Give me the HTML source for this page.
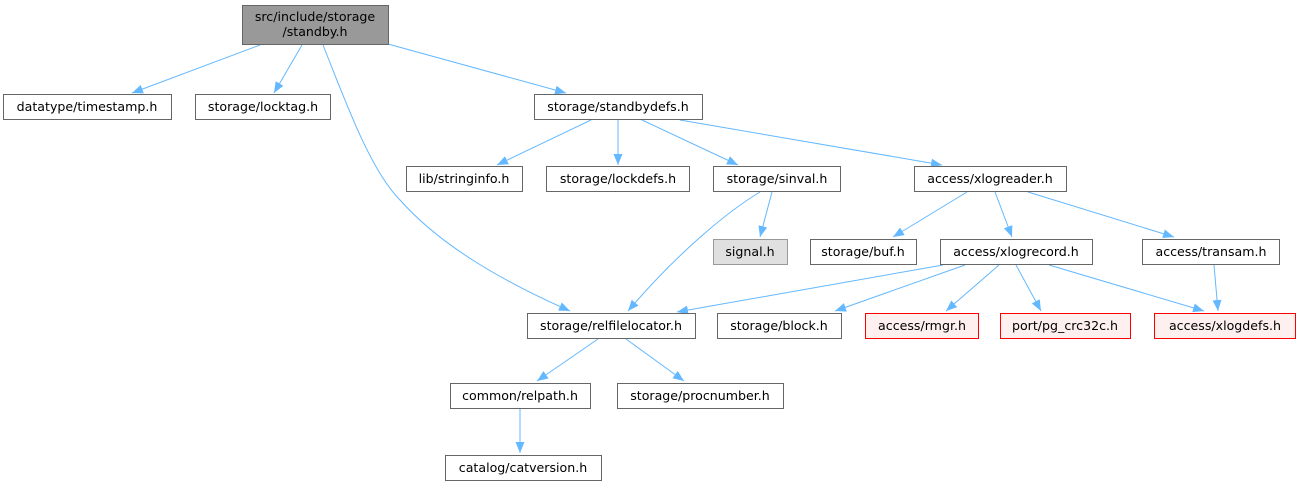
<!DOCTYPE html>
<html><head><meta charset="utf-8"><style>
html,body{margin:0;padding:0;background:#fff;}
svg{display:block;}
text{font-family:"DejaVu Sans","Liberation Sans",sans-serif;font-size:12.6px;fill:#000;}
</style></head><body>
<svg width="1299" height="491" viewBox="0 0 1299 491" xmlns="http://www.w3.org/2000/svg">
<defs>
<marker id="a" markerWidth="11" markerHeight="9" refX="11" refY="4.5" orient="auto" markerUnits="userSpaceOnUse">
<path d="M0,0 L11,4.5 L0,9 z" fill="#63b8ff"/>
</marker>
</defs>
<g fill="none" stroke="#63b8ff" stroke-width="1" marker-end="url(#a)">
<path d="M260,45 L132,93"/>
<path d="M302,45 L274,93"/>
<path d="M388,44 L566,93"/>
<path d="M323,45 C345,100 370,170 400,200 C440,245 500,280 570,311"/>
<path d="M591,120 L497,165"/>
<path d="M618,120 L618,165"/>
<path d="M642,120 L738,165"/>
<path d="M680,120 L942,165"/>
<path d="M760,192 C730,210 680,250 628,311"/>
<path d="M772,192 L760,237"/>
<path d="M967,192 L893,237"/>
<path d="M995,192 L1012,237"/>
<path d="M1028,192 L1174,237"/>
<path d="M943,265 L677,312"/>
<path d="M965,265 L835,311"/>
<path d="M999,265 L946,311"/>
<path d="M1016,265 L1041,311"/>
<path d="M1049,265 L1204,311"/>
<path d="M1214,265 L1218,311"/>
<path d="M598,339 L537,381"/>
<path d="M626,339 L684,381"/>
<path d="M520,408 L520,453"/>
</g>
<g stroke-width="1">
<rect x="242.5" y="5.5" width="146" height="39" fill="#999999" stroke="#666666"/>
<rect x="3.5" y="94.5" width="168" height="25" fill="#fff" stroke="#666"/>
<rect x="195.5" y="94.5" width="135" height="25" fill="#fff" stroke="#666"/>
<rect x="534.5" y="94.5" width="168" height="25" fill="#fff" stroke="#666"/>
<rect x="406.5" y="166.5" width="116" height="25" fill="#fff" stroke="#666"/>
<rect x="546.5" y="166.5" width="143" height="25" fill="#fff" stroke="#666"/>
<rect x="713.5" y="166.5" width="127" height="25" fill="#fff" stroke="#666"/>
<rect x="914.5" y="166.5" width="152" height="25" fill="#fff" stroke="#666"/>
<rect x="713.5" y="239.5" width="74" height="25" fill="#e0e0e0" stroke="#999"/>
<rect x="810.5" y="239.5" width="106" height="25" fill="#fff" stroke="#666"/>
<rect x="940.5" y="239.5" width="152" height="25" fill="#fff" stroke="#666"/>
<rect x="1142.5" y="239.5" width="137" height="25" fill="#fff" stroke="#666"/>
<rect x="527.5" y="313.5" width="168" height="25" fill="#fff" stroke="#666"/>
<rect x="717.5" y="313.5" width="124" height="25" fill="#fff" stroke="#666"/>
<rect x="865.5" y="313.5" width="113" height="25" fill="#fff0f0" stroke="#ff0000"/>
<rect x="1000.5" y="313.5" width="130" height="25" fill="#fff0f0" stroke="#ff0000"/>
<rect x="1154.5" y="313.5" width="141" height="25" fill="#fff0f0" stroke="#ff0000"/>
<rect x="450.5" y="383.5" width="140" height="25" fill="#fff" stroke="#666"/>
<rect x="617.5" y="383.5" width="166" height="25" fill="#fff" stroke="#666"/>
<rect x="445.5" y="455.5" width="156" height="25" fill="#fff" stroke="#666"/>
</g>
<g text-anchor="middle">
<text x="315" y="21">src/include/storage</text>
<text x="315" y="36">/standby.h</text>
<text x="87" y="111">datatype/timestamp.h</text>
<text x="263" y="111">storage/locktag.h</text>
<text x="618" y="111">storage/standbydefs.h</text>
<text x="464" y="183">lib/stringinfo.h</text>
<text x="618" y="183">storage/lockdefs.h</text>
<text x="777" y="183">storage/sinval.h</text>
<text x="990" y="183">access/xlogreader.h</text>
<text x="750" y="256">signal.h</text>
<text x="863" y="256">storage/buf.h</text>
<text x="1016" y="256">access/xlogrecord.h</text>
<text x="1211" y="256">access/transam.h</text>
<text x="611" y="330">storage/relfilelocator.h</text>
<text x="779" y="330">storage/block.h</text>
<text x="922" y="330">access/rmgr.h</text>
<text x="1065" y="330">port/pg_crc32c.h</text>
<text x="1225" y="330">access/xlogdefs.h</text>
<text x="520" y="400">common/relpath.h</text>
<text x="700" y="400">storage/procnumber.h</text>
<text x="523" y="472">catalog/catversion.h</text>
</g>
</svg>
</body></html>
